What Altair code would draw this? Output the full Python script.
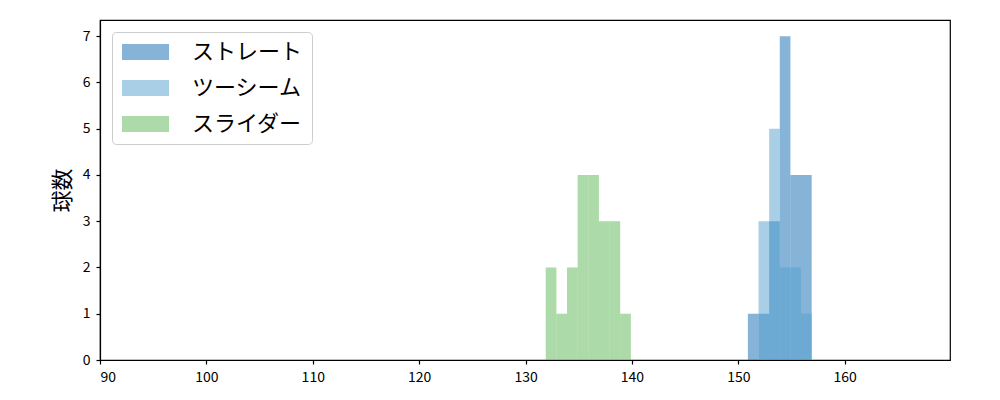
import altair as alt
import pandas as pd

# Series names and colours
series = ["ストレート", "ツーシーム", "スライダー"]
colors = ["#0d6ab2", "#519fcd", "#5ab552"]

# Histogram bins (left edges, width 1 km/h) and counts
straight_edges = [150.9, 151.9, 152.9, 153.9, 154.9, 155.9]
straight_counts = [1, 1, 3, 7, 4, 4]

twoseam_edges = [151.9, 152.9, 153.9, 154.9, 155.9]
twoseam_counts = [3, 5, 2, 2, 1]

slider_edges = [131.9, 132.9, 133.9, 134.9, 135.9, 136.9, 137.9, 138.9]
slider_counts = [2, 1, 2, 4, 4, 3, 3, 1]

bin_width = 1.0

rows = []
for name, edges, counts in [
    (series[0], straight_edges, straight_counts),
    (series[1], twoseam_edges, twoseam_counts),
    (series[2], slider_edges, slider_counts),
]:
    for e, c in zip(edges, counts):
        rows.append({"球種": name, "start": e, "end": e + bin_width, "count": c})
df = pd.DataFrame(rows)

font = "Noto Sans CJK JP"

chart = alt.Chart(df).mark_bar(opacity=0.5, stroke=None, strokeWidth=0).encode(
    x=alt.X("start:Q", scale=alt.Scale(domain=[90, 169.9], nice=False, zero=False),
            axis=alt.Axis(values=[90, 100, 110, 120, 130, 140, 150, 160], title=None,
                          grid=False, format="d")),
    x2="end:Q",
    y=alt.Y("count:Q", scale=alt.Scale(domain=[0, 7.35], nice=False),
            axis=alt.Axis(values=[0, 1, 2, 3, 4, 5, 6, 7], title="球数", grid=False,
                          titleFontSize=22, titleFontWeight="normal", titlePadding=8)),
    y2=alt.datum(0),
    color=alt.Color("球種:N", scale=alt.Scale(domain=series, range=colors),
                    legend=alt.Legend(title=None, orient="none", legendX=12, legendY=12,
                                      symbolType="M-1,-0.8L3.7,-0.8L3.7,0.8L-1,0.8Z",
                                      symbolSize=400, symbolStrokeWidth=0,
                                      labelFontSize=22, labelOffset=49,
                                      rowPadding=14, padding=9,
                                      strokeColor="#cccccc", cornerRadius=4,
                                      fillColor="white")),
    order=alt.Order("idx:Q"),
).transform_window(idx="row_number()").properties(
    width=850, height=340,
    autosize=alt.AutoSizeParams(type="none"),
    padding={"left": 92, "top": 12, "right": 42, "bottom": 32},
).configure_view(stroke="black", strokeWidth=1.2).configure_axis(
    labelFont=font, titleFont=font, labelFontSize=14, labelColor="black",
    domainColor="black", tickColor="black", tickSize=4, domainWidth=1.2, tickWidth=1.2,
    labelPadding=6,
).configure_legend(labelFont=font, labelColor="black")

chart.save("out.html", embed_options={"renderer": "svg", "actions": False})
